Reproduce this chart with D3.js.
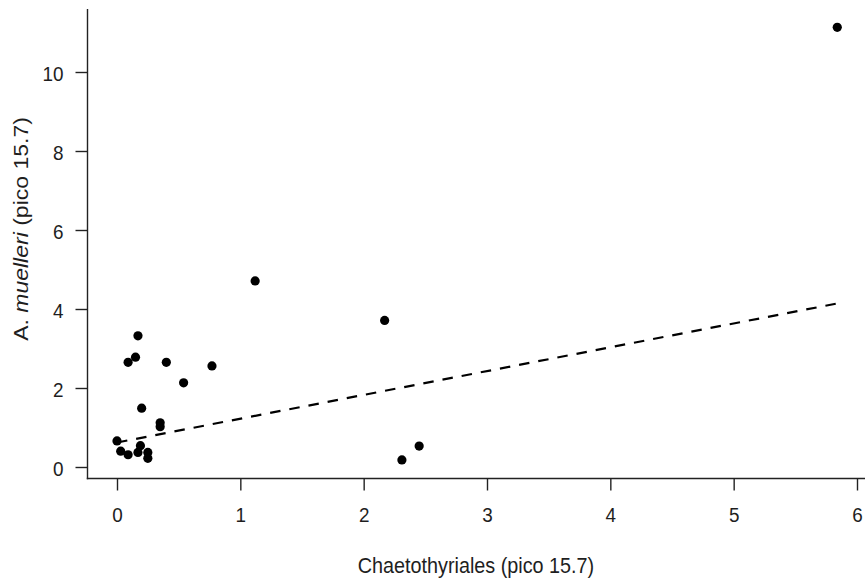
<!DOCTYPE html>
<html>
<head>
<meta charset="utf-8">
<script src="https://cdn.jsdelivr.net/npm/d3@7"></script>
<style>
  html, body { margin: 0; padding: 0; background: #fff; }
  svg { display: block; }
  text { font-family: "Liberation Sans", Arial, sans-serif; fill: #1e1e1e; }
</style>
</head>
<body>
<svg id="chart" width="865" height="581"></svg>
<script>
// Data
const xValues = [0.00, 0.03, 0.09, 0.09, 0.15, 0.17, 0.17, 0.19, 0.20, 0.25, 0.25, 0.35, 0.35, 0.40, 0.54, 0.77, 1.12, 2.17, 2.31, 2.45, 5.84];
const yValues = [0.66, 0.40, 0.31, 2.65, 2.78, 3.32, 0.37, 0.54, 1.49, 0.37, 0.22, 1.12, 1.02, 2.65, 2.13, 2.56, 4.71, 3.71, 0.18, 0.53, 11.13];
const fitX = [0.00, 5.84];
const fitY = [0.62, 4.14];
const xTicks = [0, 1, 2, 3, 4, 5, 6];
const yTicks = [0, 2, 4, 6, 8, 10];
const xTitle = "Chaetothyriales (pico 15.7)";
const yTitleParts = [["A. ", false], ["muelleri", true], [" (pico 15.7)", false]];

(function () {
const svg = d3.select("#chart");

const x = d3.scaleLinear().domain([0, 6]).range([117, 857]);
const y = d3.scaleLinear().domain([0, 10]).range([467, 72]);

// plot region (R style 4% extension)
const pLeft = 87.5, pBottom = 478.5, pTop = 9, pRight = 865;

// L-shaped box
svg.append("line").attr("x1", pLeft).attr("x2", pLeft).attr("y1", pTop).attr("y2", pBottom + 0.7)
  .attr("stroke", "#222").attr("stroke-width", 1.4);
svg.append("line").attr("x1", pLeft - 0.7).attr("x2", pRight).attr("y1", pBottom).attr("y2", pBottom)
  .attr("stroke", "#222").attr("stroke-width", 1.4);

// bottom axis
const gx = svg.append("g").attr("transform", `translate(0,${pBottom})`)
  .call(d3.axisBottom(x).tickValues(xTicks).tickFormat(d3.format("d")).tickSize(12).tickSizeOuter(0));
gx.select(".domain").remove();
gx.selectAll(".tick line").attr("stroke", "#222").attr("stroke-width", 1.4);
gx.selectAll(".tick text")
  .attr("y", null).attr("dy", null)
  .attr("transform", "translate(0,43.5) scale(0.9,1)")
  .attr("text-anchor", "middle")
  .style("font-size", "21px").style("font-family", "'Liberation Sans', Arial, sans-serif").attr("fill", "#1e1e1e");

// left axis
const gy = svg.append("g").attr("transform", `translate(${pLeft},0)`)
  .call(d3.axisLeft(y).tickValues(yTicks).tickFormat(d3.format("d")).tickSize(12).tickSizeOuter(0));
gy.select(".domain").remove();
gy.selectAll(".tick line").attr("stroke", "#222").attr("stroke-width", 1.4);
gy.selectAll(".tick text")
  .attr("x", null).attr("dy", null)
  .attr("transform", "translate(-24,8) scale(0.9,1)")
  .attr("text-anchor", "end")
  .style("font-size", "21px").style("font-family", "'Liberation Sans', Arial, sans-serif").attr("fill", "#1e1e1e");

// axis titles
svg.append("text")
  .attr("transform", "translate(476,572.5) scale(0.9,1)")
  .attr("text-anchor", "middle")
  .style("font-size", "22px")
  .text(xTitle);

const yt = svg.append("text")
  .attr("transform", "translate(28,229) scale(0.9,1) rotate(-90)")
  .attr("text-anchor", "middle")
  .style("font-size", "23px");
yTitleParts.forEach(([t, it]) => {
  yt.append("tspan").text(t).style("font-style", it ? "italic" : "normal");
});

// regression line (dashed)
const line = d3.line().x(d => x(d[0])).y(d => y(d[1]));
svg.append("path")
  .datum(fitX.map((v, i) => [v, fitY[i]]))
  .attr("d", line)
  .attr("fill", "none")
  .attr("stroke", "#000")
  .attr("stroke-width", 2.2)
  .attr("stroke-dasharray", "10.5,9");

// points
svg.append("g").selectAll("circle")
  .data(xValues.map((v, i) => [v, yValues[i]]))
  .join("circle")
  .attr("cx", d => x(d[0]))
  .attr("cy", d => y(d[1]))
  .attr("r", 4.6)
  .attr("fill", "#000");
})();
</script>
</body>
</html>
